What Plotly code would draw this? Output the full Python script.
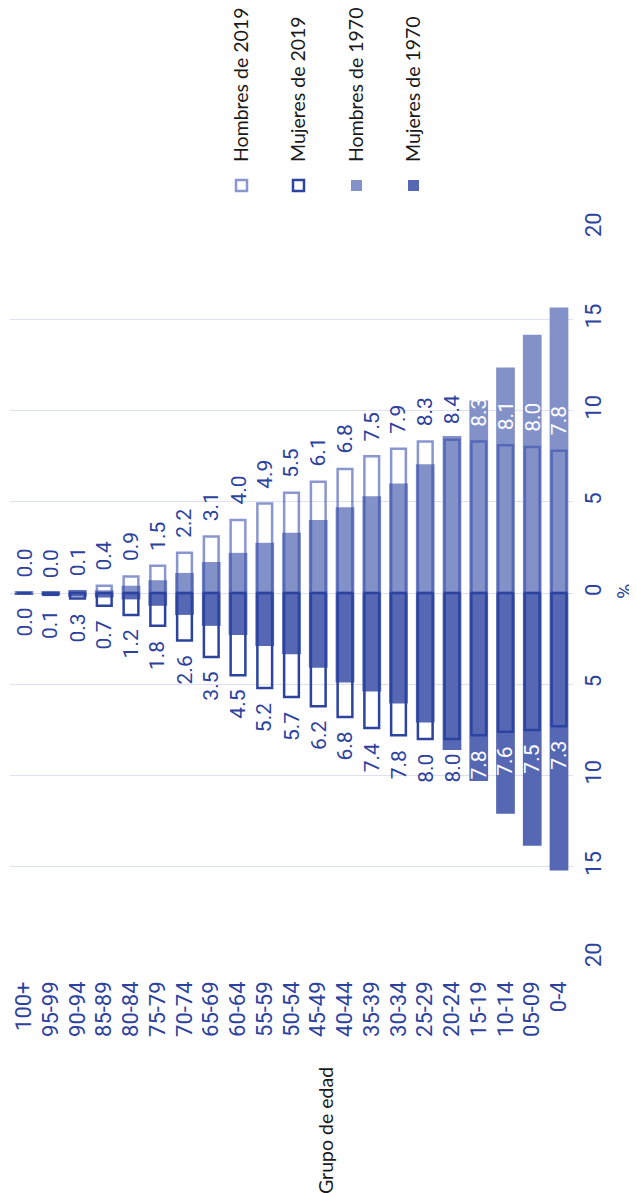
import plotly.graph_objects as go

# ---------------- data ----------------
grupos = ["100+", "95-99", "90-94", "85-89", "80-84", "75-79", "70-74", "65-69",
          "60-64", "55-59", "50-54", "45-49", "40-44", "35-39", "30-34", "25-29",
          "20-24", "15-19", "10-14", "05-09", "0-4"]

hombres_2019 = [0.0, 0.0, 0.1, 0.4, 0.9, 1.5, 2.2, 3.1, 4.0, 4.9, 5.5, 6.1, 6.8,
                7.5, 7.9, 8.3, 8.4, 8.3, 8.1, 8.0, 7.8]
mujeres_2019 = [0.0, 0.1, 0.3, 0.7, 1.2, 1.8, 2.6, 3.5, 4.5, 5.2, 5.7, 6.2, 6.8,
                7.4, 7.8, 8.0, 8.0, 7.8, 7.6, 7.5, 7.3]
hombres_1970 = [0.1, 0.1, 0.15, 0.15, 0.4, 0.7, 1.1, 1.7, 2.2, 2.75, 3.3, 4.0, 4.7,
                5.3, 6.0, 7.05, 8.6, 10.55, 12.35, 14.15, 15.65]
mujeres_1970 = [0.1, 0.1, 0.2, 0.25, 0.35, 0.7, 1.2, 1.8, 2.3, 2.9, 3.35, 4.1, 4.9,
                5.4, 6.05, 7.1, 8.6, 10.3, 12.1, 13.85, 15.2]

ticks_pct = [-20, -15, -10, -5, 0, 5, 10, 15, 20]
ticks_txt = [str(abs(v)) for v in ticks_pct]

serie_nombres = ["Hombres de 2019", "Mujeres de 2019", "Hombres de 1970", "Mujeres de 1970"]

# ---------------- style ----------------
OFF = 8  # page body margin
W, H = 637 - OFF, 1193 - OFF
ML, MR, MT, MB = 2, 64, 220, 235
C_H70 = "#8391c9"
C_M70 = "#5668b4"
C_H19 = "rgba(53,74,172,0.58)"
C_H19_LEG = "#8a96cf"
C_M19 = "#2c43a0"
C_TXT = "#2d429e"
NUM_FONT = "Roboto, sans-serif"
LEG_FONT = "Lato, Open Sans, sans-serif"

fig = go.Figure()

fig.add_trace(go.Bar(x=grupos, y=hombres_1970, width=0.7, marker=dict(color=C_H70, line=dict(width=0)),
                     name=serie_nombres[2], showlegend=False))
fig.add_trace(go.Bar(x=grupos, y=[-v for v in mujeres_1970], width=0.7, marker=dict(color=C_M70, line=dict(width=0)),
                     name=serie_nombres[3], showlegend=False))
fig.add_trace(go.Bar(x=grupos, y=hombres_2019, width=0.55,
                     marker=dict(color="rgba(0,0,0,0)", line=dict(color=C_H19, width=2.5)),
                     name=serie_nombres[0], showlegend=False))
fig.add_trace(go.Bar(x=grupos, y=[-v for v in mujeres_2019], width=0.55,
                     marker=dict(color="rgba(0,0,0,0)", line=dict(color=C_M19, width=2.5)),
                     name=serie_nombres[1], showlegend=False))

annotations = []
# value labels
for g, h19, h70 in zip(grupos, hombres_2019, hombres_1970):
    col = "white" if h70 > h19 + 1.5 else C_TXT
    annotations.append(dict(x=g, y=h19, xref="x", yref="y", text=f"{h19:.1f}", showarrow=False,
                            textangle=-90, xanchor="center", yanchor="bottom", yshift=13,
                            font=dict(family=NUM_FONT, size=21, color=col)))
for g, m19, m70 in zip(grupos, mujeres_2019, mujeres_1970):
    col = "white" if m70 > m19 + 1.5 else C_TXT
    annotations.append(dict(x=g, y=-m19, xref="x", yref="y", text=f"{m19:.1f}", showarrow=False,
                            textangle=-90, xanchor="center", yanchor="top", yshift=-13,
                            font=dict(family=NUM_FONT, size=21, color=col)))

pw = W - ML - MR
ph = H - MT - MB


def px(xp):
    # screen x (as in the reference) -> paper x
    return (xp - OFF - ML) / pw


def py(yp):
    # screen y (as in the reference) -> paper y
    return (H - MB - (yp - OFF)) / ph


# legend (rotated)
leg_x = [241, 298, 356, 413]
shapes = []
leg_styles = [
    dict(fillcolor="white", line=dict(color=C_H19_LEG, width=2.5)),
    dict(fillcolor="white", line=dict(color=C_M19, width=2.5)),
    dict(fillcolor=C_H70, line=dict(width=0)),
    dict(fillcolor=C_M70, line=dict(width=0)),
]
for nm, lx, st in zip(serie_nombres, leg_x, leg_styles):
    annotations.append(dict(x=px(lx), y=py(164), xref="paper", yref="paper", text=nm,
                            showarrow=False, textangle=-90, xanchor="center", yanchor="bottom",
                            font=dict(family=LEG_FONT, size=19.5, color="#1a1a1a")))
    shapes.append(dict(type="rect", xref="paper", yref="paper",
                       x0=px(lx - 5), x1=px(lx + 6), y0=py(191), y1=py(180), layer="above", **st))

annotations.append(dict(x=px(325), y=py(1131), xref="paper", yref="paper", text="Grupo de edad",
                        showarrow=False, textangle=-90, xanchor="center", yanchor="middle",
                        font=dict(family=LEG_FONT, size=19.5, color="#1a1a1a")))
annotations.append(dict(x=px(625), y=py(592), xref="paper", yref="paper", text="%",
                        showarrow=False, textangle=-90, xanchor="center", yanchor="middle",
                        borderpad=0,
                        font=dict(family=NUM_FONT, size=21, color=C_TXT)))

fig.update_layout(
    width=W, height=H,
    margin=dict(l=ML, r=MR, t=MT, b=MB, pad=0, autoexpand=False),
    paper_bgcolor="white", plot_bgcolor="white",
    barmode="overlay",
    showlegend=False,
    annotations=annotations,
    shapes=shapes,
    xaxis=dict(type="category", categoryorder="array", categoryarray=grupos,
               showgrid=False, zeroline=False, showline=False, ticks="", automargin=False,
               tickangle=-90, ticklabelstandoff=18,
               tickfont=dict(family=NUM_FONT, size=22, color=C_TXT)),
    yaxis=dict(range=[-20, 20], side="right", tickvals=ticks_pct, ticktext=ticks_txt,
               showgrid=True, gridcolor="#dde0f0", gridwidth=1, zeroline=False, automargin=False,
               showline=False, ticks="", tickangle=-90, ticklabelstandoff=5,
               tickfont=dict(family=NUM_FONT, size=22, color=C_TXT)),
)

fig.write_html("out.html")
